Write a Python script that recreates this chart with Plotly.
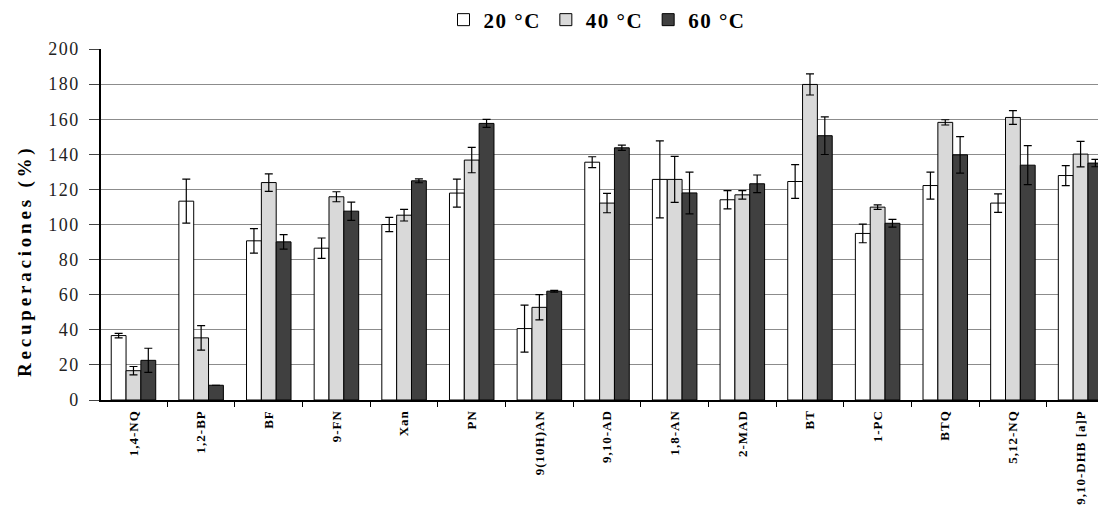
import plotly.graph_objects as go

categories = ["1,4-NQ", "1,2-BP", "BF", "9-FN", "Xan", "PN", "9(10H)AN", "9,10-AD",
              "1,8-AN", "2-MAD", "BT", "1-PC", "BTQ", "5,12-NQ", "9,10-DHB [a]P"]

series_names = ["20 °C", "40 °C", "60 °C"]

values_20 = [36.7, 113.3, 90.7, 86.5, 100.0, 117.9, 40.7, 135.5, 125.7, 114.1, 124.5, 94.9, 122.2, 112.2, 127.9]
errors_20 = [1.3, 12.5, 7.0, 5.8, 4.1, 8.0, 13.4, 3.1, 21.9, 5.2, 9.6, 5.3, 7.7, 5.3, 5.7]

values_40 = [16.7, 35.4, 123.9, 115.8, 105.3, 136.7, 52.8, 112.2, 125.7, 116.9, 179.8, 109.9, 158.2, 161.0, 140.1]
errors_40 = [2.4, 7.0, 5.0, 2.85, 3.3, 7.2, 7.2, 5.5, 13.1, 2.4, 6.0, 1.3, 1.5, 3.9, 7.3]

values_60 = [22.6, 8.4, 90.1, 107.6, 124.9, 157.6, 62.0, 143.7, 118.0, 123.2, 150.6, 100.7, 139.7, 133.8, 135.0]
errors_60 = [6.9, 0.0, 4.1, 5.2, 1.1, 2.3, 0.5, 1.5, 11.9, 5.0, 10.7, 2.2, 10.4, 11.1, 2.1]

y_ticks = [0, 20, 40, 60, 80, 100, 120, 140, 160, 180, 200]

colors = ["#ffffff", "#d9d9d9", "#404040"]
SERIF = "Liberation Serif"

fig = go.Figure()
for name, vals, errs, col in zip(series_names, [values_20, values_40, values_60],
                                 [errors_20, errors_40, errors_60], colors):
    fig.add_trace(go.Bar(
        x=categories, y=vals, name='<span style="letter-spacing:1.5px">' + name + '</span>',
        marker=dict(color=col, line=dict(color="#000000", width=1)),
        error_y=dict(type="data", array=errs, visible=True, color="#000000",
                     thickness=1.2, width=4),
    ))

# page body has an 8px default margin; figure is sized/offset to compensate
OFF = 8
W, H = 1106 - OFF, 510 - OFF
left, top, bottom = 101 - OFF, 49 - OFF, 110
cat_px = 67.65
first_boundary = 167.3          # pixel x of boundary between 1st and 2nd category
x_min = 0.5 - (first_boundary - 101) / cat_px
x_max = x_min + (W - left) / cat_px

fig.update_layout(
    width=W, height=H,
    margin=dict(l=left, r=0, t=top, b=bottom, pad=0, autoexpand=False),
    paper_bgcolor="white", plot_bgcolor="white",
    barmode="group", bargap=0.342, bargroupgap=0,
    font=dict(family=SERIF, color="#000000"),
    showlegend=True,
    legend=dict(orientation="h", x=(597 - OFF) / W, xanchor="center", xref="container",
                y=1 - (20 - OFF) / H, yanchor="middle", yref="container",
                font=dict(family=SERIF, size=21, color="#000000", weight="bold"),
                itemwidth=30, tracegroupgap=0, bgcolor="rgba(0,0,0,0)"),
    xaxis=dict(
        type="category", range=[x_min, x_max], automargin=False,
        tickvals=categories,
        ticktext=['<span style="letter-spacing:1px">' + c + '</span>' for c in categories],
        tickangle=-90, tickson="boundaries", ticks="outside", ticklen=5,
        ticklabelstandoff=3,
        tickcolor="#000000", tickwidth=1,
        tickfont=dict(family=SERIF, size=13, color="#000000", weight="bold"),
        showline=True, linecolor="#000000", linewidth=2,
        showgrid=False, zeroline=False, fixedrange=True,
    ),
    yaxis=dict(
        range=[0, 200], tickvals=y_ticks,
        ticktext=['<span style="letter-spacing:1.5px">' + str(t) + '</span>' for t in y_ticks],
        automargin=False,
        ticks="outside", ticklen=10, ticklabelstandoff=6,
        tickcolor="#444444", tickwidth=1,
        tickfont=dict(family=SERIF, size=18, color="#222222"),
        showline=True, linecolor="#000000", linewidth=1.5,
        showgrid=True, gridcolor="#8c8c8c", gridwidth=1,
        zeroline=False, fixedrange=True,
    ),
    annotations=[dict(
        text='<span style="letter-spacing:3.8px"><b>Recuperaciones (%)</b></span>',
        xref="paper", yref="paper", x=-(left - (25 - OFF)) / (W - left),
        y=1 - (261 - 49) / (400 - 49),
        xanchor="center", yanchor="middle", textangle=-90, showarrow=False,
        font=dict(family=SERIF, size=19, color="#000000"),
    )],
)

fig.write_html("out.html")
